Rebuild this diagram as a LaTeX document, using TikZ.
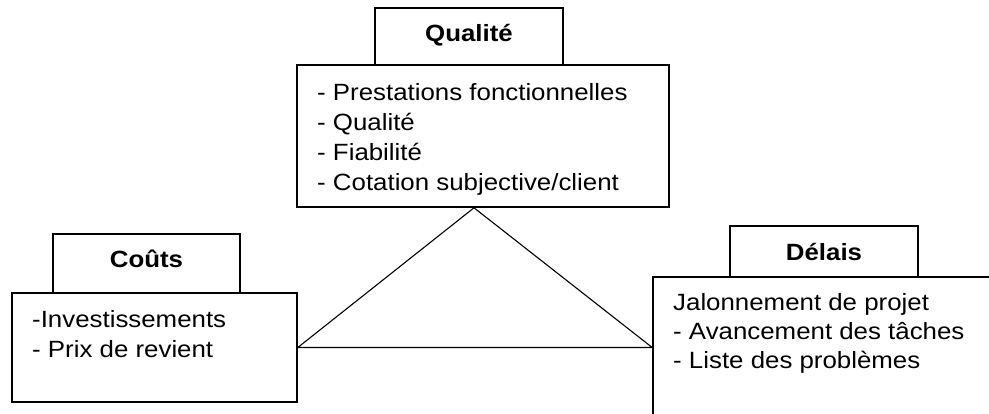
\documentclass[tikz,border=0pt]{standalone}
\usepackage{fontspec}
\setmainfont{Liberation Sans}[FakeStretch=1.1]
\begin{document}
\begin{tikzpicture}[x=1pt,y=-1pt,
  box/.style={draw=black, line width=1.6pt, fill=white, inner sep=0pt},
  titletext/.style={font=\fontsize{23.5}{30}\selectfont\bfseries, anchor=base, inner sep=0pt},
  line/.style={font=\fontsize{23.5}{30}\selectfont, anchor=base west, inner sep=0pt},
  edge/.style={draw=black, line width=1.1pt}]
\useasboundingbox (0,0) rectangle (989,414);
\clip (0,0) rectangle (989,414);

% Qualité
\node[box, minimum width=188pt, minimum height=57pt] (qtitle) at (469,36.5) {};
\node[box, minimum width=372pt, minimum height=142pt] (qbox) at (483,136) {};
\node[titletext] (qlabel) at (469,42) {Qualité};
\node[line] (q1) at (317,101) {- Prestations fonctionnelles};
\node[line] (q2) at (317,131) {- Qualité};
\node[line] (q3) at (317,161) {- Fiabilité};
\node[line] (q4) at (317,191) {- Cotation subjective/client};

% Coûts
\node[box, minimum width=187pt, minimum height=59pt] (ctitle) at (146.5,263.5) {};
\node[box, minimum width=285pt, minimum height=109pt] (cbox) at (154.5,347.5) {};
\node[titletext] (clabel) at (146.5,268) {Coûts};
\node[line] (c1) at (32,328) {-Investissements};
\node[line] (c2) at (32,358) {- Prix de revient};

% Délais
\node[box, minimum width=188pt, minimum height=51pt] (dtitle) at (824,251.5) {};
\node[box, minimum width=380pt, minimum height=180pt] (dbox) at (843,367) {};
\node[titletext] (dlabel) at (824,261) {Délais};
\node[line] (d1) at (673,311) {Jalonnement de projet};
\node[line] (d2) at (673,340) {- Avancement des tâches};
\node[line] (d3) at (673,369) {- Liste des problèmes};

% Triangle joining the three boxes
\coordinate (apex) at (qbox.south -| 474,0);
\coordinate (dleft) at (dbox.west |- cbox.east);
\draw[edge] (cbox.east) -- (apex) -- (dleft) -- cycle;
\end{tikzpicture}
\end{document}
